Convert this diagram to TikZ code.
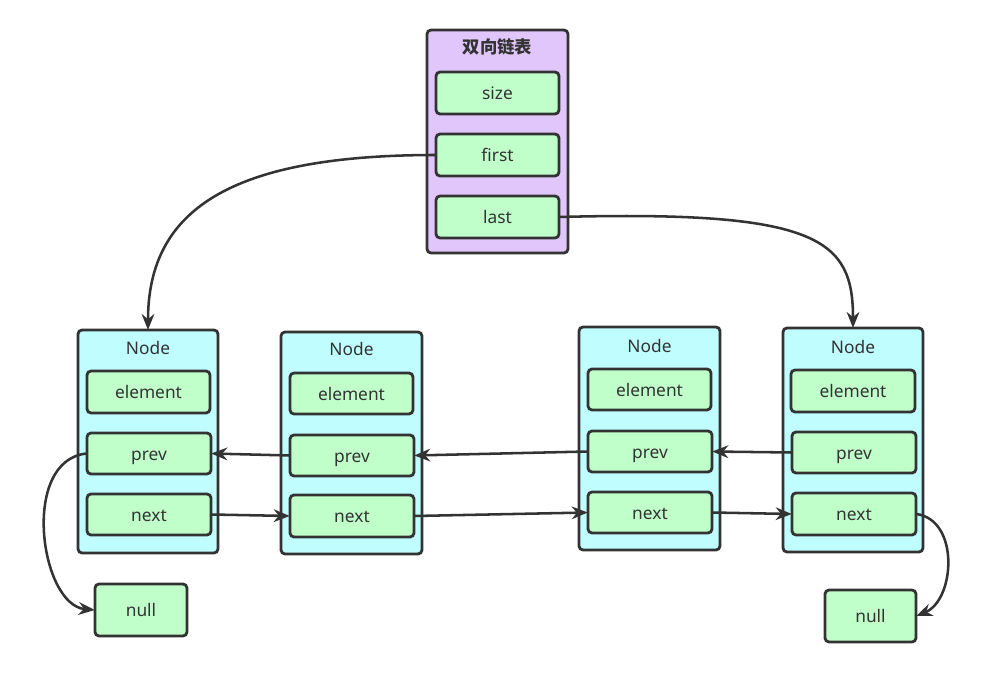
\documentclass[tikz,border=0pt]{standalone}
\usepackage{fontspec}
\setmainfont{Noto Sans}
\newfontfamily\cjk{Noto Sans CJK SC}
\usetikzlibrary{arrows.meta}
\definecolor{purp}{HTML}{E1C6FB}
\definecolor{cyanf}{HTML}{BFFDFF}
\definecolor{greenf}{HTML}{C0FFCA}
\definecolor{edge}{HTML}{333333}
\tikzset{
  px/.style={x=0.75pt,y=-0.75pt},
  container/.style={draw=edge,line width=2.1pt,rounded corners=3pt},
  field/.style={draw=edge,fill=greenf,line width=2.1pt,rounded corners=3pt,inner sep=0pt},
  lbl/.style={text=edge,font=\fontsize{13}{15}\selectfont,text height=2.2ex,text depth=0.25ex},
  conn/.style={draw=edge,line width=1.9pt,-{Stealth[length=12pt,width=9.5pt]}},
}
\newcommand{\fieldbox}[6]{% name, x1,y1,x2,y2,text
  \draw[field] (#2,#3) rectangle (#4,#5);
  \node[lbl] (#1) at ({(#2+#4)/2},{(#3+#5)/2}) [minimum width={(#4-#2)*0.75pt},minimum height={(#5-#3)*0.75pt}] {#6};
}
\begin{document}
\begin{tikzpicture}[px]
\useasboundingbox (0,0) rectangle (1000,681);
% top container
\draw[container,fill=purp] (427,30) rectangle (568,253);
\node[lbl] (title) at (497.5,47) {\cjk\bfseries 双向链表};
\fieldbox{size}{436}{72}{559}{114}{size}
\fieldbox{first}{436}{134}{559}{176}{first}
\fieldbox{last}{436}{196}{559}{238}{last}
% nodes
\draw[container,fill=cyanf] (78,330) rectangle (218,553);
\node[lbl] (n1) at (148,348) {Node};
\coordinate (n1top) at (148,330);
\fieldbox{e1}{87}{371}{210}{413}{element}
\fieldbox{p1}{87}{433}{211}{474}{prev}
\fieldbox{x1}{87}{494}{211}{535}{next}

\draw[container,fill=cyanf] (281,332) rectangle (422,554);
\node[lbl] (n2) at (351.5,349) {Node};
\fieldbox{e2}{290}{373}{413}{414}{element}
\fieldbox{p2}{290}{435}{414}{476}{prev}
\fieldbox{x2}{290}{495}{414}{537}{next}

\draw[container,fill=cyanf] (579,327) rectangle (720,550);
\node[lbl] (n3) at (649.5,346) {Node};
\fieldbox{e3}{588}{369}{711}{410}{element}
\fieldbox{p3}{588}{431}{712}{472}{prev}
\fieldbox{x3}{588}{492}{712}{533}{next}

\draw[container,fill=cyanf] (783,328) rectangle (923,552);
\node[lbl] (n4) at (853,347) {Node};
\coordinate (n4top) at (853,328);
\fieldbox{e4}{791}{370}{915}{412}{element}
\fieldbox{p4}{792}{432}{916}{473}{prev}
\fieldbox{x4}{792}{493}{916}{535}{next}

% nulls
\fieldbox{null1}{95}{584}{187}{636}{null}
\fieldbox{null2}{825}{590}{916}{642}{null}

% connectors
\draw[conn] (first.west) .. controls (230,155) and (148,210) .. (n1top);
\draw[conn] (last.east) .. controls (820,210) and (853,240) .. (n4top);
\draw[conn] (p2.west) -- (p1.east);
\draw[conn] (p3.west) -- (p2.east);
\draw[conn] (p4.west) -- (p3.east);
\draw[conn] (x1.east) -- (x2.west);
\draw[conn] (x2.east) -- (x3.west);
\draw[conn] (x3.east) -- (x4.west);
\draw[conn] (p1.west) .. controls (20,460) and (40,605) .. (null1.west);
\draw[conn] (x4.east) .. controls (960,520) and (955,600) .. (null2.east);
\end{tikzpicture}
\end{document}
